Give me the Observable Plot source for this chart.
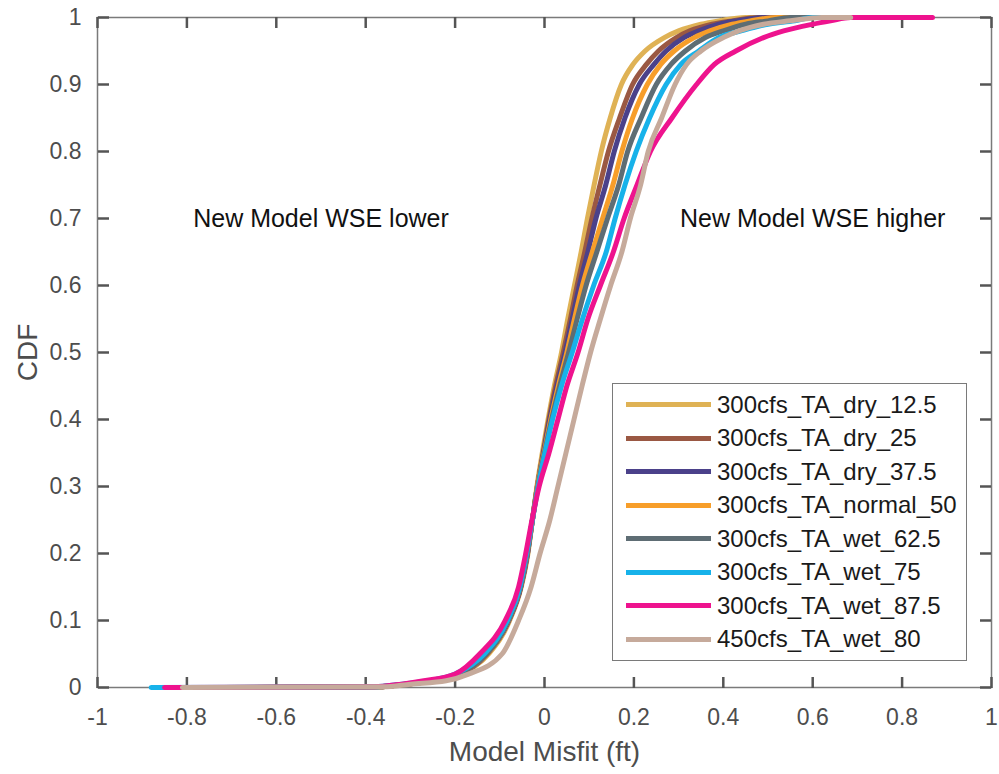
<!DOCTYPE html>
<html><head><meta charset="utf-8">
<script src="https://cdn.jsdelivr.net/npm/d3@7"></script>
<script src="https://cdn.jsdelivr.net/npm/@observablehq/plot@0.6"></script>
<style>
body{margin:0;background:#fff;font-family:"Liberation Sans",Arial,sans-serif;}
#wrap{position:relative;width:999px;height:774px;}
#legend{position:absolute;left:612px;top:383px;width:353px;height:272px;border:1.5px solid #7a7a7a;background:#fff;padding-top:4px}
.row{height:33.5px;display:flex;align-items:center;}
.sw{width:85px;height:5px;margin-left:13px;margin-right:6px}
.lab{font-size:24px;color:#1a1a1a;white-space:nowrap}
</style></head><body><div id="wrap"></div>
<script>
// ---- data ----
const seriesNames = ["300cfs_TA_dry_12.5","300cfs_TA_dry_25","300cfs_TA_dry_37.5","300cfs_TA_normal_50","300cfs_TA_wet_62.5","300cfs_TA_wet_75","300cfs_TA_wet_87.5","450cfs_TA_wet_80"];
const seriesColors = ["#DFB255","#9A5843","#4B418A","#F79E2A","#5E6D74","#17B2EA","#EE138E","#C6AA9B"];
const cdfLevels = [0,0.001,0.005,0.01,0.02,0.05,0.1,0.15,0.2,0.25,0.3,0.35,0.4,0.45,0.5,0.55,0.6,0.65,0.7,0.75,0.8,0.85,0.9,0.93,0.95,0.97,0.98,0.99,0.995,1,1];
const misfitDry125 = [-0.66,-0.37,-0.31,-0.25,-0.19,-0.125,-0.078,-0.052,-0.037,-0.027,-0.017,-0.005,0.008,0.022,0.038,0.052,0.067,0.082,0.096,0.111,0.127,0.147,0.172,0.198,0.225,0.268,0.3,0.35,0.39,0.45,0.56];
const misfitDry25 = [-0.62,-0.37,-0.31,-0.25,-0.19,-0.128,-0.08,-0.053,-0.038,-0.027,-0.016,-0.003,0.01,0.025,0.042,0.058,0.073,0.09,0.106,0.124,0.143,0.168,0.197,0.228,0.255,0.295,0.325,0.375,0.42,0.48,0.57];
const misfitDry375 = [-0.7,-0.37,-0.31,-0.25,-0.19,-0.13,-0.08,-0.053,-0.038,-0.027,-0.016,-0.002,0.012,0.028,0.046,0.062,0.078,0.097,0.115,0.137,0.156,0.18,0.212,0.245,0.272,0.312,0.345,0.39,0.43,0.5,0.57];
const misfitNormal50 = [-0.65,-0.37,-0.31,-0.25,-0.19,-0.13,-0.081,-0.054,-0.039,-0.027,-0.016,-0.001,0.014,0.031,0.05,0.067,0.085,0.107,0.13,0.153,0.173,0.197,0.23,0.26,0.29,0.335,0.37,0.42,0.46,0.52,0.6];
const misfitWet625 = [-0.72,-0.37,-0.31,-0.25,-0.19,-0.13,-0.081,-0.054,-0.039,-0.027,-0.015,0.0,0.016,0.034,0.054,0.073,0.093,0.117,0.141,0.166,0.186,0.216,0.25,0.283,0.315,0.36,0.4,0.45,0.5,0.55,0.62];
const misfitWet75 = [-0.88,-0.38,-0.32,-0.26,-0.2,-0.135,-0.083,-0.055,-0.04,-0.027,-0.014,0.001,0.018,0.038,0.062,0.085,0.11,0.138,0.158,0.18,0.205,0.235,0.272,0.305,0.345,0.39,0.44,0.5,0.56,0.6,0.67];
const misfitWet875 = [-0.85,-0.38,-0.32,-0.27,-0.2,-0.145,-0.088,-0.058,-0.042,-0.028,-0.012,0.01,0.03,0.05,0.075,0.097,0.125,0.154,0.178,0.207,0.237,0.285,0.34,0.38,0.428,0.49,0.535,0.6,0.64,0.685,0.868];
const misfit450Wet80 = [-0.81,-0.36,-0.3,-0.22,-0.17,-0.095,-0.058,-0.03,-0.01,0.012,0.03,0.048,0.066,0.084,0.103,0.125,0.148,0.173,0.192,0.215,0.232,0.262,0.292,0.318,0.35,0.4,0.435,0.49,0.55,0.62,0.685];
const seriesX = [misfitDry125, misfitDry25, misfitDry375, misfitNormal50, misfitWet625, misfitWet75, misfitWet875, misfit450Wet80];
const xTicks = [-1,-0.8,-0.6,-0.4,-0.2,0,0.2,0.4,0.6,0.8,1];
const xTickLabels = ["-1","-0.8","-0.6","-0.4","-0.2","0","0.2","0.4","0.6","0.8","1"];
const yTicks = [0,0.1,0.2,0.3,0.4,0.5,0.6,0.7,0.8,0.9,1];
const yTickLabels = ["0","0.1","0.2","0.3","0.4","0.5","0.6","0.7","0.8","0.9","1"];
const annText = ["New Model WSE lower","New Model WSE higher"];
const annX = [-0.5, 0.6];
const annY = [0.7, 0.7];
const xLabel = "Model Misfit (ft)";
const yLabel = "CDF";

// ---- build ----
const W = 999, H = 774, mL = 97, mR = 8, mT = 17, mB = 87;
const plotW = W - mL - mR, plotH = H - mT - mB, tickLen = 11;
const rows = [];
seriesNames.forEach((name, i) => seriesX[i].forEach((x, j) => rows.push({series: name, x, y: cdfLevels[j]})));
const anns = annText.map((t, i) => ({t, x: annX[i], y: annY[i]}));
const xl = new Map(xTicks.map((d, i) => [d, xTickLabels[i]]));
const yl = new Map(yTicks.map((d, i) => [d, yTickLabels[i]]));
const axisGray = "#555555", textGray = "#4d4d4d";
const blank = () => "";
const tk = {tickSize: tickLen, tickFormat: blank, label: null, stroke: axisGray, strokeWidth: 2.5};

const chart = Plot.plot({
  width: W, height: H,
  marginLeft: mL, marginRight: mR, marginTop: mT, marginBottom: mB,
  style: {fontFamily: "'Liberation Sans', Arial, sans-serif", background: "#fff"},
  x: {domain: [-1, 1]},
  y: {domain: [0, 1]},
  color: {domain: seriesNames, range: seriesColors},
  marks: [
    Plot.frame({stroke: "#7a7a7a", strokeWidth: 1.5}),
    Plot.axisX({anchor: "bottom", ticks: xTicks, tickSize: 0, tickPadding: 21, tickFormat: d => xl.get(d), fontSize: 23, fill: textGray, label: null}),
    Plot.axisY({anchor: "left", ticks: yTicks, tickSize: 0, tickPadding: 16, tickFormat: d => yl.get(d), fontSize: 23, fill: textGray, label: null}),
    // inward ticks: outward axis ticks from the opposite side, shifted across the frame
    Plot.axisX({anchor: "top", ticks: xTicks, dy: plotH, ...tk}),
    Plot.axisX({anchor: "bottom", ticks: xTicks, dy: -plotH, ...tk}),
    Plot.axisY({anchor: "right", ticks: yTicks, dx: -plotW, ...tk}),
    Plot.axisY({anchor: "left", ticks: yTicks, dx: plotW, ...tk}),
    Plot.line(rows, {x: "x", y: "y", z: "series", stroke: "series", strokeWidth: 5, curve: "monotone-x"}),
    Plot.text(anns, {x: "x", y: "y", text: "t", fontSize: 25, fill: "#111"}),
    Plot.text([yLabel], {frameAnchor: "left", dx: -69, rotate: -90, textAnchor: "middle", lineAnchor: "middle", text: d => d, fontSize: 28, fill: textGray}),
    Plot.text([xLabel], {frameAnchor: "bottom", dy: 65, textAnchor: "middle", lineAnchor: "middle", text: d => d, fontSize: 28, fill: textGray})
  ]
});
const wrap = document.getElementById("wrap");
wrap.appendChild(chart);
const legend = document.createElement("div");
legend.id = "legend";
seriesNames.forEach((name, i) => {
  const r = document.createElement("div"); r.className = "row";
  const s = document.createElement("div"); s.className = "sw"; s.style.background = seriesColors[i];
  const l = document.createElement("span"); l.className = "lab"; l.textContent = name;
  r.appendChild(s); r.appendChild(l); legend.appendChild(r);
});
wrap.appendChild(legend);
</script></body></html>
